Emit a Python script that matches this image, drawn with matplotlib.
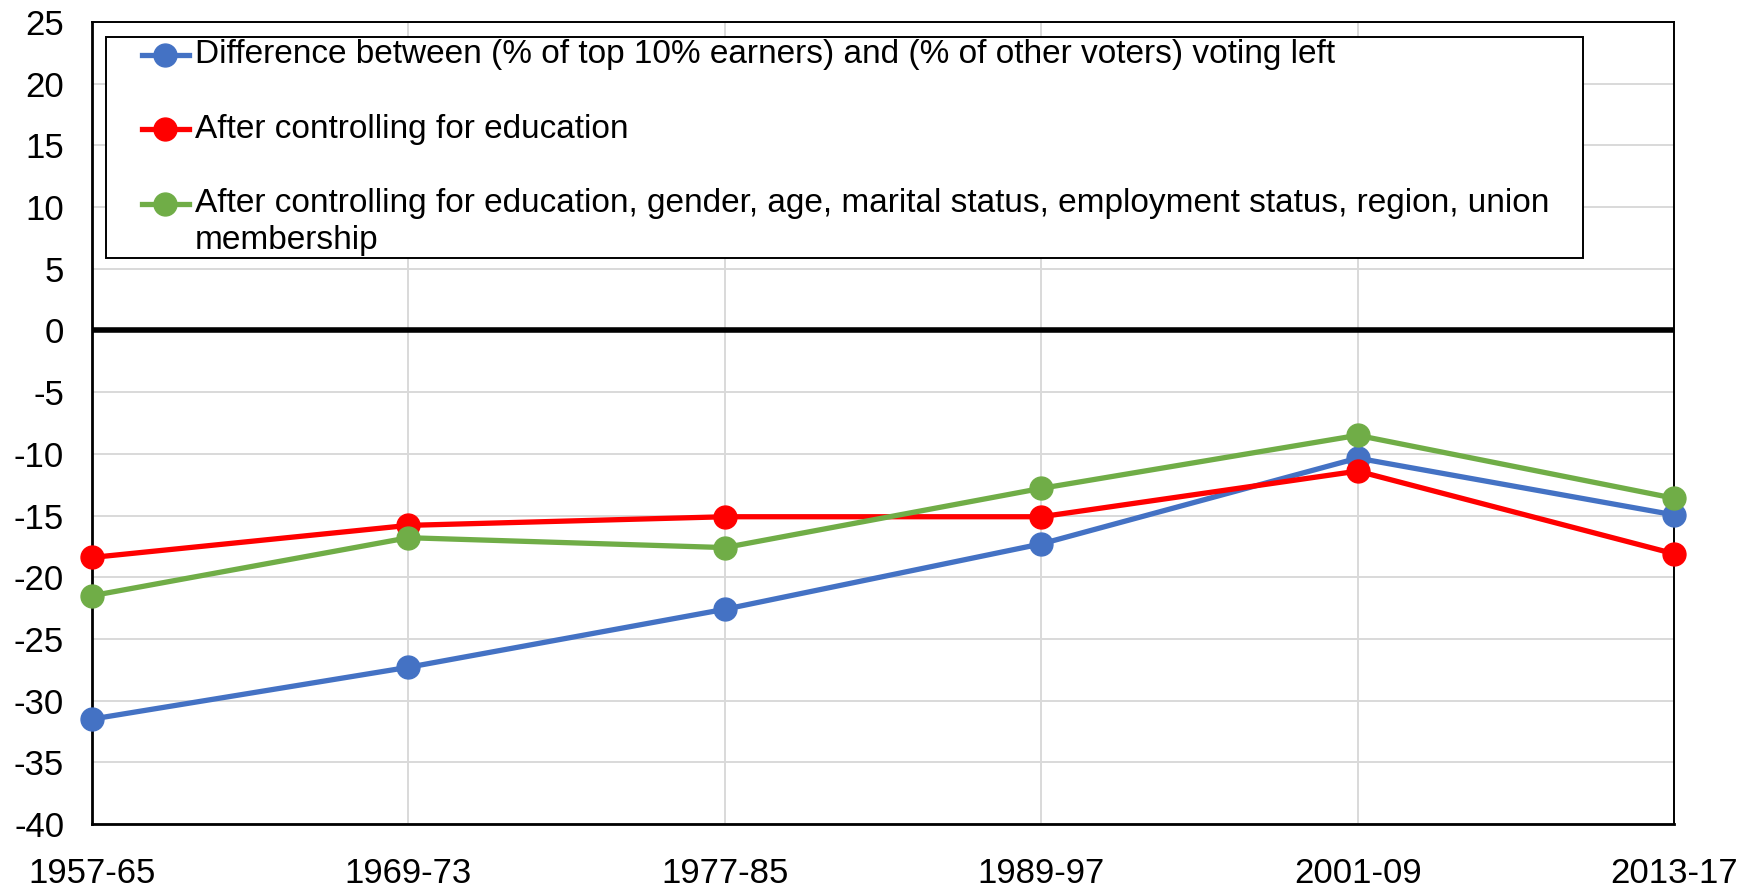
import matplotlib as mpl
import matplotlib.pyplot as plt
from matplotlib.patches import Rectangle

periods = ["1957-65", "1969-73", "1977-85", "1989-97", "2001-09", "2013-17"]
raw_diff = [-31.5, -27.3, -22.6, -17.3, -10.35, -14.95]
ctrl_edu = [-18.4, -15.8, -15.1, -15.1, -11.4, -18.1]
ctrl_all = [-21.5, -16.8, -17.6, -12.8, -8.5, -13.6]

labels = ["Difference between (% of top 10% earners) and (% of other voters) voting left",
          "After controlling for education",
          "After controlling for education, gender, age, marital status, employment status, region, union\nmembership"]
colors = ["#4472C4", "#FF0000", "#70AD47"]
yticks = list(range(-40, 30, 5))

mpl.rc('font', family=['Liberation Sans', 'DejaVu Sans'])
mpl.rc('axes', unicode_minus=False)

fig = plt.figure(figsize=(17.46, 8.90), dpi=100)
ax = fig.add_axes([0.0527, 0.0742, 0.9061, 0.9011])

x = list(range(len(periods)))
for vals, c in zip([raw_diff, ctrl_edu, ctrl_all], colors):
    ax.plot(x, vals, color=c, lw=3.8, marker="o", markersize=16.5, zorder=4, clip_on=False)

ax.axhline(0, color="black", lw=4, zorder=3)

ax.set_xlim(0, len(periods) - 1)
ax.set_ylim(-40, 25)
ax.set_xticks(x)
ax.set_xticklabels(periods)
ax.set_yticks(yticks)
ax.grid(True, color="#D9D9D9", lw=1.4, zorder=0)
ax.set_axisbelow(True)
ax.tick_params(axis="both", length=0, labelsize=25)
ax.tick_params(axis="x", pad=24)
ax.tick_params(axis="y", pad=20)
for side, sp in ax.spines.items():
    sp.set_color("black")
    sp.set_linewidth(1.4)
ax.spines["left"].set_linewidth(2)
ax.spines["bottom"].set_linewidth(2)

# legend drawn by hand so the marker sits on the first line of a wrapped label
ax.add_patch(Rectangle((0.0089, 0.7057), 0.9336, 0.2756, transform=ax.transAxes,
                       fc="white", ec="black", lw=1.4, zorder=6))
row_y = 0.9594
for lab, c in zip(labels, colors):
    ax.plot([0.0316, 0.0613], [row_y, row_y], color=c, lw=3.8, transform=ax.transAxes,
            zorder=7, clip_on=False)
    ax.plot([0.0462], [row_y], "o", color=c, markersize=16.5, transform=ax.transAxes,
            zorder=7, clip_on=False)
    for k, line in enumerate(lab.split("\n")):
        ax.text(0.0651, row_y - k * 0.0455, line, transform=ax.transAxes, fontsize=24,
                va="center", ha="left", zorder=8)
    row_y -= 0.0930

fig.savefig("out.png", dpi=100)
